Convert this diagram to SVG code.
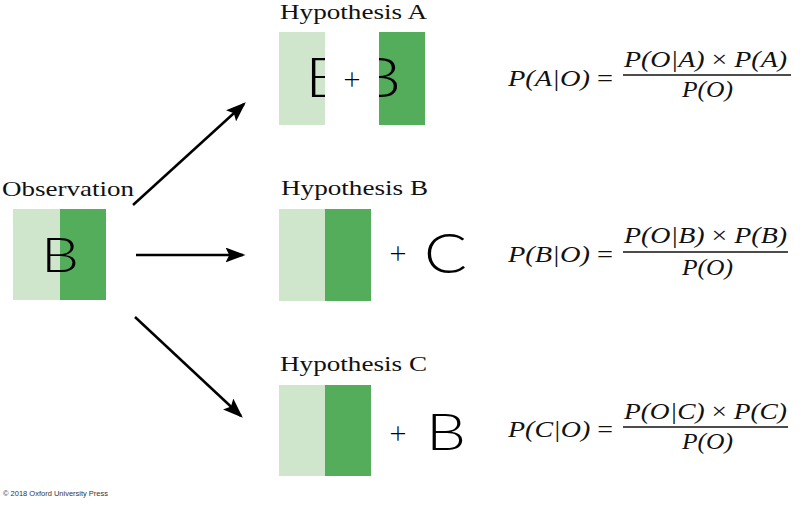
<svg xmlns="http://www.w3.org/2000/svg" width="800" height="505" viewBox="0 0 800 505">
<style>
.lt{fill:#cfe6cd}
.dk{fill:#53ad5b}
.ttl{font-family:"Liberation Serif","DejaVu Serif",serif;font-size:22px;fill:#111}
.let{font-family:Lato,"Open Sans","Liberation Sans",sans-serif;font-weight:300;fill:#000}
.plus{font-family:Lato,"Open Sans","Liberation Sans",sans-serif;font-weight:300;font-size:30px;fill:#000}
.m{font-family:"Liberation Serif","DejaVu Serif",serif;font-style:italic;font-size:23px;fill:#111}
.mu{font-family:"Liberation Serif","DejaVu Serif",serif;font-style:normal;fill:#111}
.conn line{stroke:#000;stroke-width:2.5;marker-end:url(#ah)}
.copy{font-family:"Liberation Sans",sans-serif;font-size:8px;fill:#333}
</style>
<defs>
<marker id="ah" markerWidth="8" markerHeight="6" refX="7" refY="3" orient="auto" markerUnits="strokeWidth" viewBox="0 0 8 6">
<path d="M0,0 L8,3 L0,6 L1.5,3 Z" fill="#000"/>
</marker>
<clipPath id="cA1"><rect x="279" y="32" width="46" height="93"/></clipPath>
<clipPath id="cA2"><rect x="379" y="32" width="46" height="93"/></clipPath>
</defs>
<rect width="800" height="505" fill="#fff"/>

<g id="observation">
<text class="ttl" x="2" y="196" textLength="132" lengthAdjust="spacingAndGlyphs">Observation</text>
<rect class="lt" x="13" y="209" width="47" height="91"/>
<rect class="dk" x="60" y="209" width="46" height="91"/>
<text class="let" x="41" y="272" font-size="48" textLength="38" lengthAdjust="spacingAndGlyphs">B</text>
</g>

<g id="hypothesisA">
<text class="ttl" x="280" y="19" textLength="147" lengthAdjust="spacingAndGlyphs">Hypothesis A</text>
<rect class="lt" x="279" y="32" width="46" height="93"/>
<rect class="dk" x="379" y="32" width="46" height="93"/>
<text class="let" x="305" y="97" font-size="55" textLength="42" lengthAdjust="spacingAndGlyphs" clip-path="url(#cA1)">B</text>
<text class="plus" x="352" y="90" text-anchor="middle">+</text>
<text class="let" x="359" y="97" font-size="55" textLength="42" lengthAdjust="spacingAndGlyphs" clip-path="url(#cA2)">B</text>
</g>

<g id="hypothesisB">
<text class="ttl" x="281" y="195" textLength="147" lengthAdjust="spacingAndGlyphs">Hypothesis B</text>
<rect class="lt" x="279" y="209" width="46" height="92"/>
<rect class="dk" x="325" y="209" width="46" height="92"/>
<text class="plus" x="398" y="264" text-anchor="middle">+</text>
<text class="let" x="424" y="273" font-size="55" textLength="43" lengthAdjust="spacingAndGlyphs">C</text>
</g>

<g id="hypothesisC">
<text class="ttl" x="280" y="371" textLength="147" lengthAdjust="spacingAndGlyphs">Hypothesis C</text>
<rect class="lt" x="279" y="385" width="46" height="91"/>
<rect class="dk" x="325" y="385" width="46" height="91"/>
<text class="plus" x="398" y="444" text-anchor="middle">+</text>
<text class="let" x="426" y="450" font-size="52" textLength="40" lengthAdjust="spacingAndGlyphs">B</text>
</g>

<g id="formulaA">
<text class="m" x="508" y="86" textLength="105" lengthAdjust="spacingAndGlyphs">P(A|O) <tspan class="mu">=</tspan></text>
<text class="m" x="624" y="67" textLength="163" lengthAdjust="spacingAndGlyphs">P(O|A) <tspan class="mu">×</tspan> P(A)</text>
<line x1="623" y1="75" x2="791" y2="75" stroke="#111" stroke-width="1.5"/>
<text class="m" x="682" y="97" textLength="51" lengthAdjust="spacingAndGlyphs">P(O)</text>
</g>

<g id="formulaB">
<text class="m" x="508" y="262" textLength="105" lengthAdjust="spacingAndGlyphs">P(B|O) <tspan class="mu">=</tspan></text>
<text class="m" x="624" y="243" textLength="163" lengthAdjust="spacingAndGlyphs">P(O|B) <tspan class="mu">×</tspan> P(B)</text>
<line x1="623" y1="252" x2="788" y2="252" stroke="#111" stroke-width="1.5"/>
<text class="m" x="682" y="275" textLength="51" lengthAdjust="spacingAndGlyphs">P(O)</text>
</g>

<g id="formulaC">
<text class="m" x="508" y="437" textLength="105" lengthAdjust="spacingAndGlyphs">P(C|O) <tspan class="mu">=</tspan></text>
<text class="m" x="624" y="419" textLength="163" lengthAdjust="spacingAndGlyphs">P(O|C) <tspan class="mu">×</tspan> P(C)</text>
<line x1="623" y1="427" x2="788" y2="427" stroke="#111" stroke-width="1.5"/>
<text class="m" x="682" y="449" textLength="51" lengthAdjust="spacingAndGlyphs">P(O)</text>
</g>

<g id="connectors" class="conn">
<line x1="133" y1="205" x2="244" y2="104"/>
<line x1="136" y1="255" x2="243" y2="255"/>
<line x1="135" y1="317" x2="241" y2="416"/>
</g>

<text class="copy" x="3" y="496" textLength="105" lengthAdjust="spacingAndGlyphs">© 2018 Oxford University Press</text>
</svg>
